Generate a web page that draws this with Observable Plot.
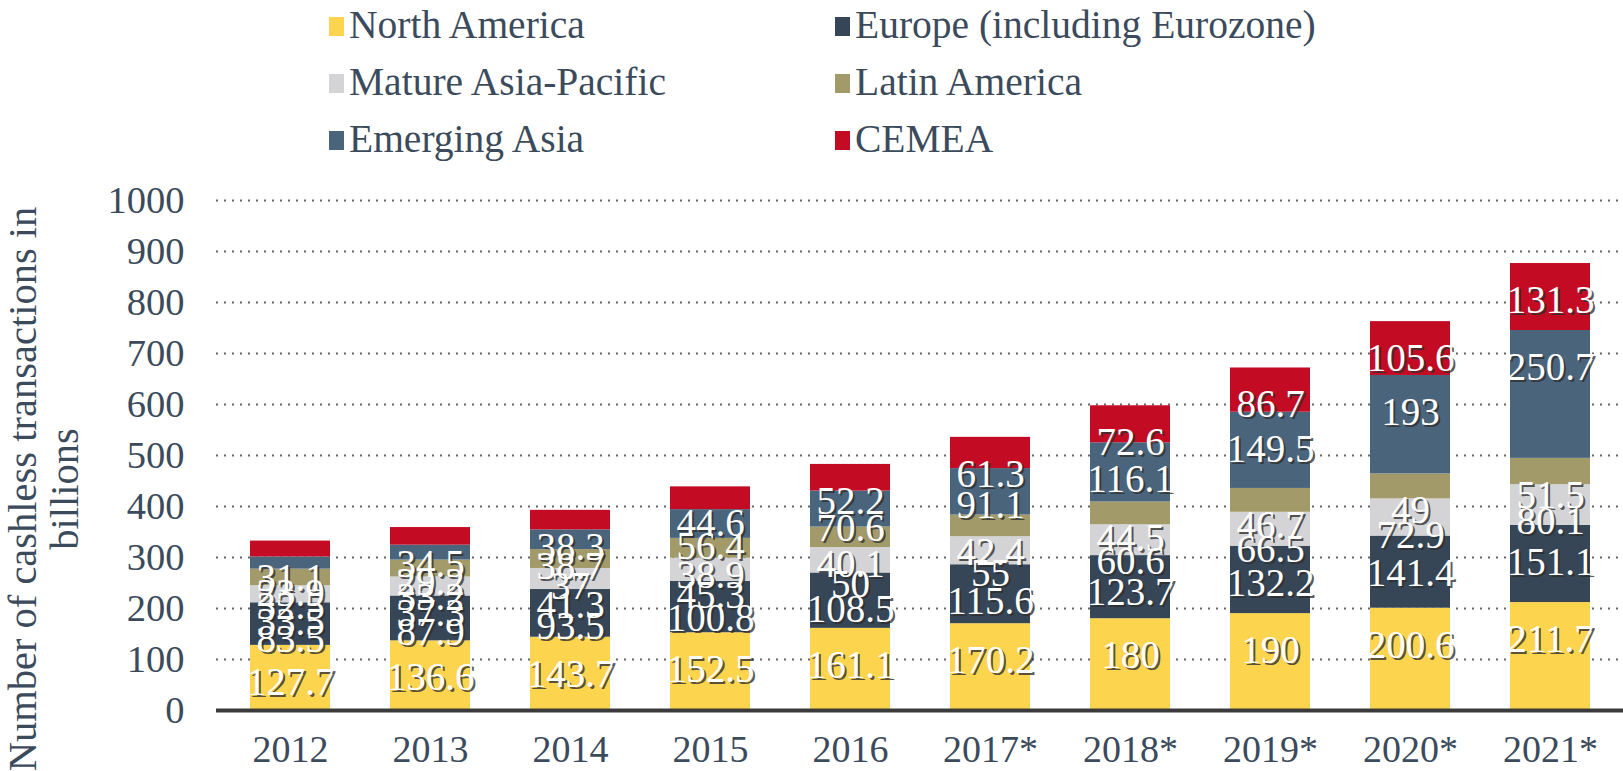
<!DOCTYPE html>
<html>
<head>
<meta charset="utf-8">
<script src="https://cdn.jsdelivr.net/npm/d3@7"></script>
<script src="https://cdn.jsdelivr.net/npm/@observablehq/plot@0.6"></script>
<style>
  body { margin: 0; background: #ffffff; font-family: "Liberation Serif", "Times New Roman", serif; }
  #wrap { position: relative; width: 1623px; height: 771px; overflow: hidden; background: #ffffff; }
  #legend { position: absolute; left: 0; top: 0; width: 1623px; height: 165px; }
  .item { position: absolute; height: 44px; display: flex; align-items: center; font-size: 39.5px; line-height: 1; color: #3B4B5C; white-space: nowrap; }
  .sw { width: 15px; height: 19px; margin-right: 5px; flex: none; }
  #chart { position: absolute; left: 0; top: 165px; }
  #chart svg, #chart svg text { font-family: "Liberation Serif", "Times New Roman", serif !important; }
  #ytitle { position: absolute; left: -256px; top: 447px; width: 600px; height: 84px; transform: rotate(-90deg); transform-origin: 50% 50%; text-align: center; font-size: 40.5px; line-height: 42px; color: #3B4B5C; }
</style>
</head>
<body>
<div id="wrap">
  <div id="legend"></div>
  <div id="chart"></div>
  <div id="ytitle">Number of cashless transactions in<br>billions</div>
</div>
<script>
// ---- data ----
const years = ["2012", "2013", "2014", "2015", "2016", "2017*", "2018*", "2019*", "2020*", "2021*"];
const regions = ["North America", "Europe (including Eurozone)", "Mature Asia-Pacific", "Latin America", "Emerging Asia", "CEMEA"];
const northAmerica = [127.7, 136.6, 143.7, 152.5, 161.1, 170.2, 180, 190, 200.6, 211.7];
const europe       = [83.5, 87.9, 93.5, 100.8, 108.5, 115.6, 123.7, 132.2, 141.4, 151.1];
const matureAPAC   = [33.5, 37.3, 41.3, 45.3, 50, 55, 60.6, 66.5, 72.9, 80.1];
const latinAmerica = [32.5, 33.2, 37, 38.9, 40.1, 42.4, 44.5, 46.7, 49, 51.5];
const emergingAsia = [23.9, 29.2, 38.7, 56.4, 70.6, 91.1, 116.1, 149.5, 193, 250.7];
const cemea        = [31.1, 34.5, 38.3, 44.6, 52.2, 61.3, 72.6, 86.7, 105.6, 131.3];
const yTicks = [0, 100, 200, 300, 400, 500, 600, 700, 800, 900, 1000];

// ---- styles ----
const colors = ["#FDD44E", "#364656", "#D4D4D6", "#A39A6A", "#4A657B", "#C30B24"];
const textColor = "#3B4B5C";
const serif = "'Liberation Serif', 'Times New Roman', serif";

const seriesValues = [northAmerica, europe, matureAPAC, latinAmerica, emergingAsia, cemea];
const rows = [];
regions.forEach((r, i) => {
  years.forEach((y, j) => rows.push({year: y, region: r, value: seriesValues[i][j]}));
});

// ---- legend ----
const legendPos = [
  {x: 329, y: 4}, {x: 835, y: 4},
  {x: 329, y: 61}, {x: 835, y: 61},
  {x: 329, y: 118}, {x: 835, y: 118}
];
const legend = document.getElementById("legend");
regions.forEach((name, k) => {
  const it = document.createElement("div");
  it.className = "item";
  it.style.left = legendPos[k].x + "px";
  it.style.top = legendPos[k].y + "px";
  const sw = document.createElement("span");
  sw.className = "sw";
  sw.style.background = colors[k];
  const tx = document.createElement("span");
  tx.textContent = name;
  it.appendChild(sw);
  it.appendChild(tx);
  legend.appendChild(it);
});

// ---- chart ----
const labelOpts = {
  x: "year", y: "value", z: "region", order: regions,
  text: d => String(d.value), fontSize: 39, fontFamily: serif, lineAnchor: "middle", textAnchor: "middle"
};

const chart = Plot.plot({
  width: 1623,
  height: 606,
  marginTop: 35,
  marginBottom: 61,
  marginLeft: 216,
  marginRight: 0,
  style: {fontFamily: serif, fontSize: "38px", color: textColor, background: "transparent", overflow: "visible"},
  x: {domain: years, paddingInner: 0.43, paddingOuter: 0.215, label: null},
  y: {domain: [0, 1000], label: null},
  color: {domain: regions, range: colors},
  marks: [
    Plot.gridY(yTicks.filter(d => d > 0), {stroke: "#555", strokeOpacity: 0.9, strokeWidth: 2, strokeDasharray: "2,6"}),
    Plot.barY(rows, {x: "year", y: "value", fill: "region", order: regions}),
    Plot.ruleY([0], {stroke: "#3a3a3a", strokeWidth: 4}),
    Plot.axisY({ticks: yTicks, tickFormat: d => String(d), tickSize: 0, tickPadding: 32, fontSize: 38.5, fontFamily: serif, label: null, fill: textColor}),
    Plot.axisX({tickSize: 0, tickPadding: 25, fontSize: 38, fontFamily: serif, label: null, fill: textColor}),
    Plot.text(rows, Plot.stackY2({...labelOpts, fill: "#2e2e2e", fillOpacity: 0.8, dx: 2, dy: 39})),
    Plot.text(rows, Plot.stackY2({...labelOpts, fill: "#ffffff", dy: 37}))
  ]
});
document.getElementById("chart").appendChild(chart);
</script>
</body>
</html>
